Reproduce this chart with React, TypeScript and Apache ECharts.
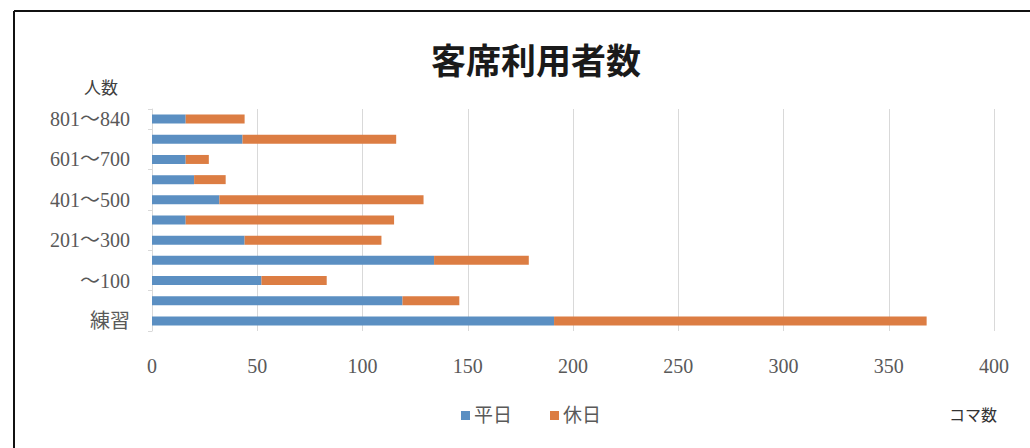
import React, { useEffect, useRef } from "react";
import * as echarts from "echarts";

const categories = ["練習", "0", "～100", "101～200", "201～300", "301～400", "401～500", "501～600", "601～700", "701～800", "801～840"];
const weekday = [191, 119, 52, 134, 44, 16, 32, 20, 16, 43, 16];
const holiday = [177, 27, 31, 45, 65, 99, 97, 15, 11, 73, 28];
const xTicks = [0, 50, 100, 150, 200, 250, 300, 350, 400];
const seriesNames = ["平日", "休日"];

const SERIF = "'Liberation Serif', 'DejaVu Serif', 'Noto Sans CJK JP', serif";
const SANS = "'Noto Sans CJK JP', 'Noto Sans', sans-serif";

export default function App() {
  const ref = useRef<HTMLDivElement>(null);
  useEffect(() => {
    if (!ref.current) return;
    const chart = echarts.init(ref.current, null, { renderer: "svg" });
    chart.setOption({
      animation: false,
      backgroundColor: "#ffffff",
      title: {
        text: "客席利用者数",
        left: 531,
        top: 36,
        textAlign: "center",
        textStyle: { fontFamily: SANS, fontSize: 35, fontWeight: "bold", color: "#1a1a1a" },
      },
      grid: { left: 152, right: 36, top: 109, bottom: 117, containLabel: false },
      legend: {
        data: seriesNames,
        left: 456,
        top: 401,
        itemWidth: 9,
        itemHeight: 9,
        itemGap: 38,
        icon: "rect",
        textStyle: { fontFamily: SERIF, fontSize: 19, color: "#595959", padding: [0, 0, 0, -1] },
      },
      xAxis: {
        type: "value",
        min: xTicks[0],
        max: xTicks[xTicks.length - 1],
        interval: 50,
        axisLine: { show: false },
        axisTick: { show: false },
        splitLine: { show: true, lineStyle: { color: "#d9d9d9", width: 1 } },
        axisLabel: { fontFamily: SERIF, fontSize: 20, color: "#595959", margin: 25 },
      },
      yAxis: {
        type: "category",
        data: categories,
        axisLine: { show: true, lineStyle: { color: "#d9d9d9" } },
        axisTick: { show: true, length: 4, lineStyle: { color: "#d9d9d9" } },
        axisLabel: { interval: 1, fontFamily: SERIF, fontSize: 20, color: "#595959", margin: 22 },
      },
      series: [
        {
          name: seriesNames[0],
          type: "bar",
          stack: "total",
          data: weekday,
          barWidth: 9,
          itemStyle: { color: "#5b8fc2" },
        },
        {
          name: seriesNames[1],
          type: "bar",
          stack: "total",
          data: holiday,
          barWidth: 9,
          itemStyle: { color: "#dc7d43" },
        },
      ],
      graphic: [
        { type: "line", shape: { x1: 14, y1: 11, x2: 1030, y2: 11 }, style: { stroke: "#111", lineWidth: 2 } },
        { type: "line", shape: { x1: 14, y1: 11, x2: 14, y2: 448 }, style: { stroke: "#111", lineWidth: 2 } },
        {
          type: "text",
          x: 101,
          y: 88,
          style: { text: "人数", fontFamily: SERIF, fontSize: 17, fill: "#404040", textAlign: "center", textVerticalAlign: "middle" },
        },
        {
          type: "text",
          x: 973,
          y: 414,
          style: { text: "コマ数", fontFamily: SANS, fontSize: 16, fill: "#333", textAlign: "center", textVerticalAlign: "middle" },
        },
      ],
    });
    return () => chart.dispose();
  }, []);
  return <div ref={ref} style={{ position: "fixed", left: 0, top: 0, width: 1030, height: 448 }} />;
}
